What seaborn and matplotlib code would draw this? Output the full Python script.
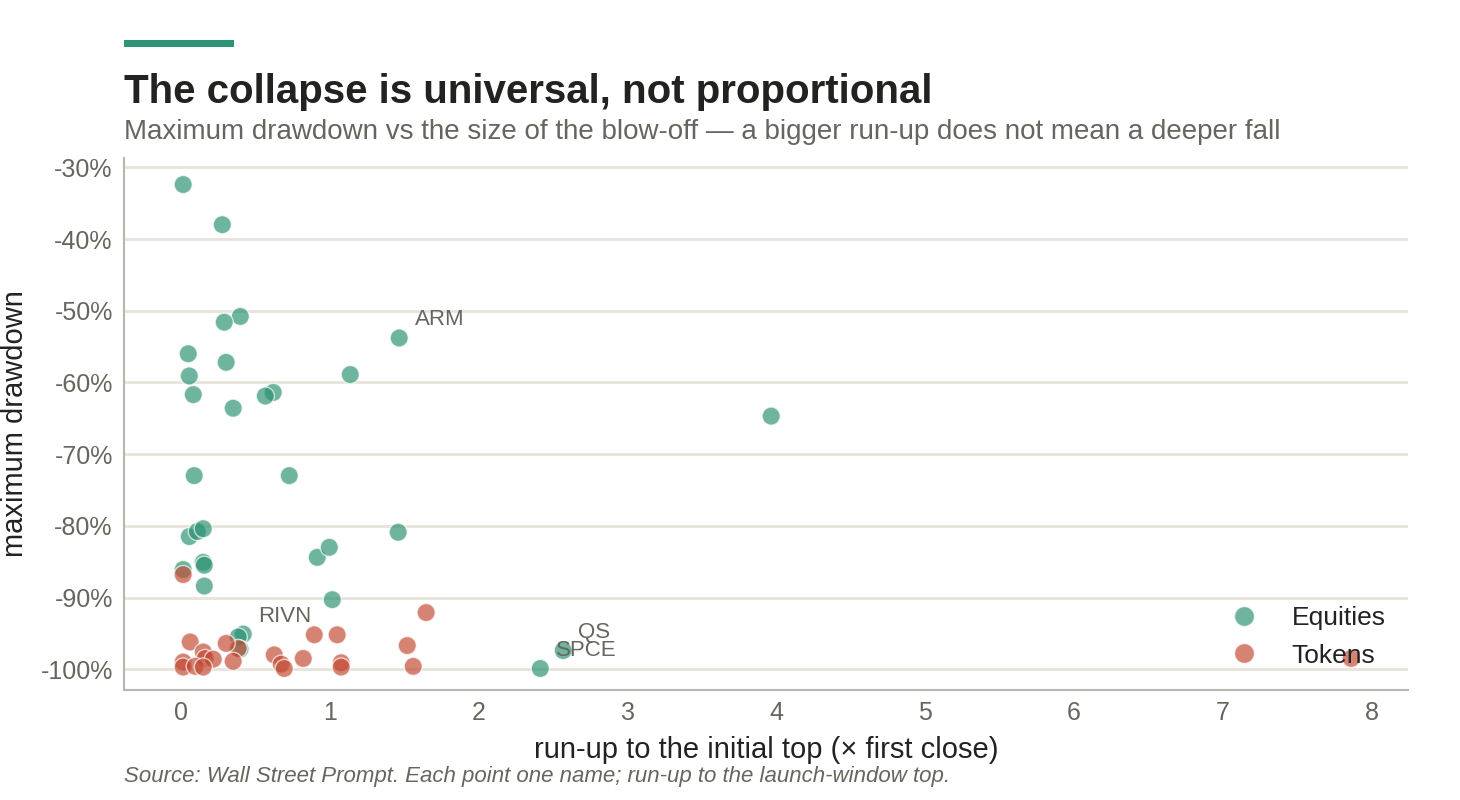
import pandas as pd
import matplotlib.pyplot as plt
import seaborn as sns
from matplotlib.patches import Rectangle
from matplotlib.ticker import FuncFormatter, MultipleLocator

sns.set_theme(style="white")
plt.rcParams['font.family'] = ['Liberation Sans', 'DejaVu Sans']

# ------------------ DATA ------------------ #
# run-up (x first close) and max drawdown (%) per name
equity_runup = [0.013, 0.276, 0.397, 0.289, 1.465, 0.047, 0.302, 1.136, 0.054, 0.081,
                0.618, 0.565, 0.349, 3.965, 0.087, 0.726, 0.054, 0.108, 0.148, 1.458,
                0.013, 0.148, 0.155, 0.155, 0.914, 0.995, 1.015, 0.417, 0.383, 0.395,
                2.413, 2.567]
equity_drawdown = [-32.4, -38.0, -50.8, -51.6, -53.8, -56.0, -57.2, -58.9, -59.1, -61.7,
                   -61.4, -61.9, -63.6, -64.7, -73.0, -73.0, -81.5, -80.8, -80.4, -80.9,
                   -86.1, -85.1, -85.5, -88.4, -84.4, -83.0, -90.3, -95.1, -95.5, -97.2,
                   -99.9, -97.4]
equity_names = ["", "", "", "", "ARM", "", "", "", "", "",
                "", "", "", "", "", "", "", "", "", "",
                "", "", "", "", "", "", "", "RIVN", "", "",
                "SPCE", "QS"]

token_runup = [0.013, 1.646, 0.383, 0.060, 0.148, 0.161, 0.215, 0.302, 0.349, 0.013,
               0.013, 0.094, 0.148, 0.625, 0.672, 0.692, 0.820, 0.894, 1.048, 1.075,
               1.075, 1.519, 1.559, 7.863]
token_drawdown = [-86.8, -92.1, -97.1, -96.2, -97.6, -98.5, -98.6, -96.4, -98.9, -99.0,
                  -99.7, -99.6, -99.7, -98.0, -99.3, -99.9, -98.5, -95.2, -95.2, -99.1,
                  -99.7, -96.7, -99.6, -98.5]

df = pd.concat([
    pd.DataFrame({"runup": equity_runup, "drawdown": equity_drawdown,
                  "name": equity_names, "group": "Equities"}),
    pd.DataFrame({"runup": token_runup, "drawdown": token_drawdown,
                  "name": "", "group": "Tokens"}),
], ignore_index=True)

GREEN = "#2a9172"
RED = "#c24a33"
GRID = "#e6e3da"
SPINE = "#b9b6ad"
MUTED = "#66665f"
INK = "#222220"

# ------------------ PLOT ------------------ #
fig = plt.figure(figsize=(14.6, 8), dpi=100)
ax = fig.add_axes([0.0849, 0.1375, 0.8795, 0.665])

sns.scatterplot(data=df, x="runup", y="drawdown", hue="group",
                hue_order=["Equities", "Tokens"], palette=[GREEN, RED],
                s=170, alpha=0.68, edgecolor="white", linewidth=1.0, ax=ax)

for _, row in df[df["name"] != ""].iterrows():
    ax.annotate(row["name"], (row["runup"], row["drawdown"]), xytext=(11, 13),
                textcoords="offset points", ha="left", va="center",
                fontsize=16, color=MUTED)

ax.set_xlim(-0.385, 8.245)
ax.set_ylim(-102.9, -28.7)
ax.xaxis.set_major_locator(MultipleLocator(1))
ax.yaxis.set_major_locator(MultipleLocator(10))
ax.yaxis.set_major_formatter(FuncFormatter(lambda v, p: f"{v:.0f}%"))

ax.grid(axis="y", color=GRID, linewidth=2)
ax.grid(axis="x", visible=False)
ax.set_axisbelow(True)
for side in ["top", "right"]:
    ax.spines[side].set_visible(False)
for side in ["left", "bottom"]:
    ax.spines[side].set_color(SPINE)
    ax.spines[side].set_linewidth(1.5)

ax.tick_params(axis="both", labelsize=18, colors=MUTED, length=0, pad=8)
ax.set_xlabel("run-up to the initial top (× first close)", fontsize=21, color=INK, labelpad=8)
ax.set_ylabel("maximum drawdown", fontsize=21, color=INK, labelpad=8)

leg = ax.legend(loc="lower right", frameon=False, fontsize=19, handletextpad=0.8,
                markerscale=1.1, borderaxespad=0.45, labelspacing=0.5)
for t in leg.get_texts():
    t.set_color(INK)

# ------------------ HEADER / FOOTER ------------------ #
fig.add_artist(Rectangle((124 / 1460, 1 - 47 / 800), 110 / 1460, 7 / 800,
                         transform=fig.transFigure, color="#2e9477", lw=0))
fig.text(124 / 1460, 1 - 103 / 800, "The collapse is universal, not proportional",
         fontsize=29, fontweight="bold", color=INK, va="baseline")
fig.text(124 / 1460, 1 - 139 / 800,
         "Maximum drawdown vs the size of the blow-off — a bigger run-up does not mean a deeper fall",
         fontsize=20, color=MUTED, va="baseline")
fig.text(124 / 1460, 1 - 782 / 800,
         "Source: Wall Street Prompt. Each point one name; run-up to the launch-window top.",
         fontsize=16, color=MUTED, style="italic", va="baseline")

plt.savefig("out.png", dpi=100)
